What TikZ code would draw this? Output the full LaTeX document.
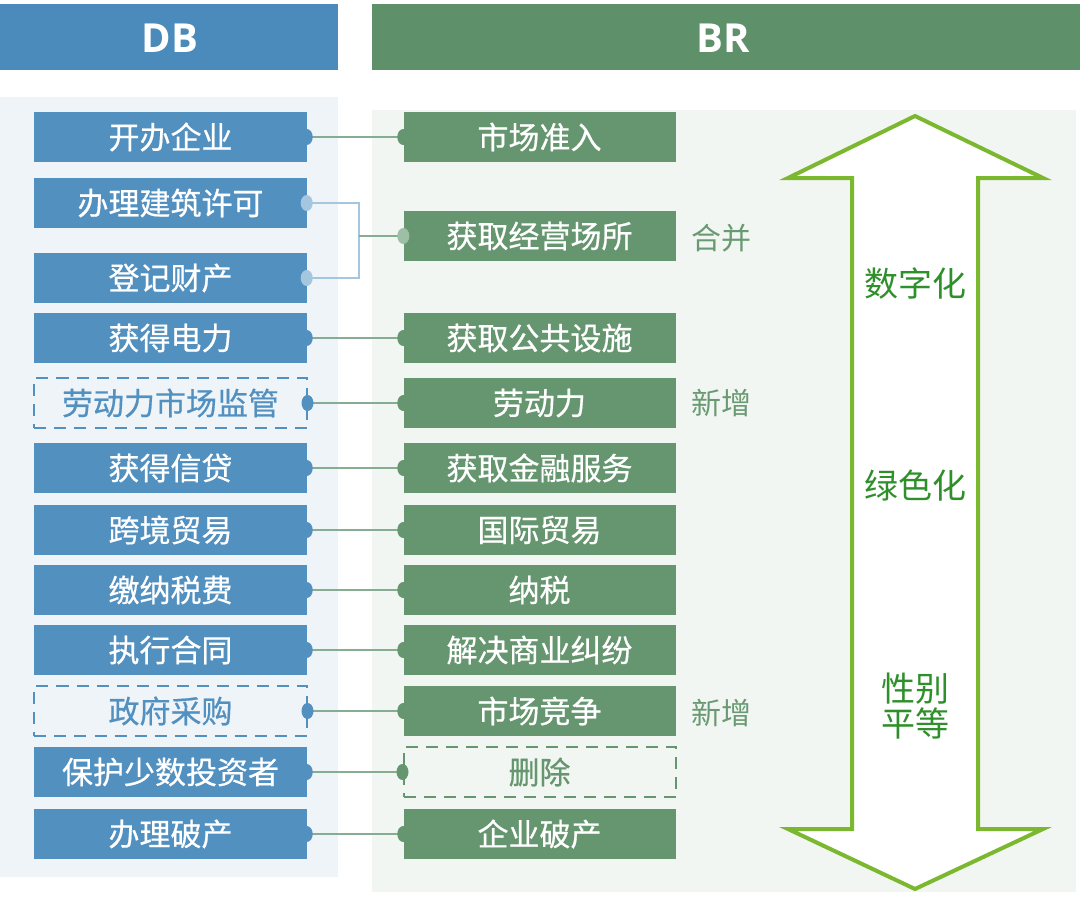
\documentclass[tikz,border=0pt]{standalone}
\usepackage{fontspec}
\newfontfamily\cjk{Noto Sans CJK SC}[FakeBold=0.6]
\newfontfamily\cjkp{Noto Sans CJK SC}
\newfontfamily\hdr{Open Sans}
\definecolor{dbhead}{HTML}{4A8BBB}
\definecolor{brhead}{HTML}{5E9069}
\definecolor{lfill}{HTML}{5290C0}
\definecolor{rfill}{HTML}{65966F}
\definecolor{lpanel}{HTML}{EFF4F9}
\definecolor{rpanel}{HTML}{F2F6F2}
\definecolor{connc}{HTML}{86AC91}
\definecolor{mergec}{HTML}{A4C6DE}
\definecolor{mergeg}{HTML}{9DBFA3}
\definecolor{arrowc}{HTML}{7CB82F}
\definecolor{arrowtxt}{HTML}{2F8F2A}
\definecolor{sidetxt}{HTML}{6A9A74}
\tikzset{
  boxbase/.style={minimum width=272bp, minimum height=50bp, inner sep=0pt,
    font=\cjk\fontsize{31bp}{35bp}\selectfont},
  lbox/.style={boxbase, fill=lfill, text=white},
  rbox/.style={boxbase, fill=rfill, text=white},
  ldash/.style={boxbase, draw=lfill, line width=2bp, dash pattern=on 12bp off 8bp, text=lfill},
  rdash/.style={boxbase, draw=rfill, line width=2bp, dash pattern=on 12bp off 8bp, text=rfill},
  conn/.style={draw=connc, line width=1.6bp},
  mergeline/.style={draw=mergec, line width=1.6bp},
  lport/.style={fill=lfill},
  rport/.style={fill=rfill},
  headtxt/.style={text=white, font=\hdr\bfseries\fontsize{40bp}{44bp}\selectfont},
  sidelab/.style={text=sidetxt, font=\cjkp\fontsize{30bp}{34bp}\selectfont},
  arrlab/.style={text=arrowtxt, font=\cjkp\fontsize{34bp}{38bp}\selectfont, align=center},
}
\begin{document}
\begin{tikzpicture}[x=1bp,y=-1bp]
\useasboundingbox (0,0) rectangle (1080,898);
\fill[white] (0,0) rectangle (1080,898);
% panels
\fill[lpanel] (0,97) rectangle (338,877);
\fill[rpanel] (372,110) rectangle (1076,892);
% headers
\fill[dbhead] (0,4) rectangle (338,70);
\fill[brhead] (372,4) rectangle (1080,70);
\node[headtxt] (hdb) at (170,38) {DB};
\node[headtxt] (hbr) at (723,38) {BR};
% double arrow
\draw[arrowc, line width=4bp, fill=white, line join=miter]
  (915,116) -- (1043,178) -- (978,178) -- (978,829) -- (1043,829) -- (915,889)
  -- (788,829) -- (852,829) -- (852,178) -- (788,178) -- cycle;
\node[arrlab] (a1) at (915,284) {数字化};
\node[arrlab] (a2) at (915,486) {绿色化};
\node[arrlab] (a3) at (915,706) {性别\\[-3bp]平等};
% left boxes
\node[lbox]  (L1)  at (170.5,137) {开办企业};
\node[lbox]  (L2)  at (170.5,203) {办理建筑许可};
\node[lbox]  (L3)  at (170.5,278) {登记财产};
\node[lbox]  (L4)  at (170.5,338) {获得电力};
\node[ldash] (L5)  at (170.5,403) {劳动力市场监管};
\node[lbox]  (L6)  at (170.5,468) {获得信贷};
\node[lbox]  (L7)  at (170.5,530) {跨境贸易};
\node[lbox]  (L8)  at (170.5,590) {缴纳税费};
\node[lbox]  (L9)  at (170.5,650) {执行合同};
\node[ldash] (L10) at (170.5,711) {政府采购};
\node[lbox]  (L11) at (170.5,772) {保护少数投资者};
\node[lbox]  (L12) at (170.5,834) {办理破产};
% right boxes
\node[rbox]  (R1)  at (539.5,137) {市场准入};
\node[rbox]  (R2)  at (539.5,236) {获取经营场所};
\node[rbox]  (R3)  at (539.5,338) {获取公共设施};
\node[rbox]  (R4)  at (539.5,403) {劳动力};
\node[rbox]  (R5)  at (539.5,468) {获取金融服务};
\node[rbox]  (R6)  at (539.5,530) {国际贸易};
\node[rbox]  (R7)  at (539.5,590) {纳税};
\node[rbox]  (R8)  at (539.5,650) {解决商业纠纷};
\node[rbox]  (R9)  at (539.5,711) {市场竞争};
\node[rdash] (R10) at (539.5,772) {删除};
\node[rbox]  (R11) at (539.5,834) {企业破产};
% side labels
\node[sidelab] (s1) at (721,238) {合并};
\node[sidelab] (s2) at (721,403) {新增};
\node[sidelab] (s3) at (721,713) {新增};
% connectors
\foreach \l/\r in {L1/R1,L4/R3,L5/R4,L6/R5,L7/R6,L8/R7,L9/R8,L10/R9,L11/R10,L12/R11}{
  \draw[conn] (\l.east) -- (\r.west);
}
\coordinate (mg) at (359,236);
\draw[mergeline] (L2.east) -| (mg);
\draw[mergeline] (L3.east) -| (mg);
\draw[conn] (mg) -- (R2.west);
% ports
\foreach \l in {L1,L4,L5,L6,L7,L8,L9,L10,L11,L12}{
  \fill[lport] (\l.east) ellipse [x radius=6bp, y radius=8bp];
}
\foreach \r in {R1,R3,R4,R5,R6,R7,R8,R9,R10,R11}{
  \fill[rport] (\r.west) ellipse [x radius=6bp, y radius=8bp];
}
\fill[mergec] (L2.east) ellipse [x radius=6bp, y radius=8bp];
\fill[mergec] (L3.east) ellipse [x radius=6bp, y radius=8bp];
\fill[mergeg] (R2.west) ellipse [x radius=6bp, y radius=8bp];
\end{tikzpicture}
\end{document}
